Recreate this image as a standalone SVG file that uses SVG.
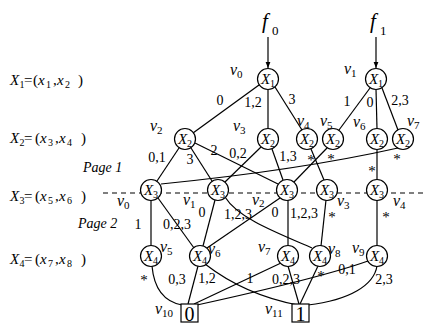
<svg xmlns="http://www.w3.org/2000/svg" width="435" height="324" viewBox="0 0 435 324">
<defs>
<style>
.e{stroke:#000;stroke-width:1.2;fill:none}
.n circle{fill:#fff;stroke:#000;stroke-width:1.2}
.n rect{fill:#fff;stroke:#000;stroke-width:1.2}
text{font-family:"Liberation Serif","Times New Roman",serif;fill:#000}
.nx{font-size:15px;font-style:italic;text-anchor:middle}
.s{font-style:normal;font-size:10px}
.vl{font-size:16px;font-style:italic}
.vs{font-style:normal;font-size:11px}
.el{font-size:14px;text-anchor:middle}
.st{font-size:15px;text-anchor:middle}
.lab{font-size:15px}
.i{font-style:italic}
.pg{font-size:14px;font-style:italic}
</style>
<marker id="ah" viewBox="0 0 10 10" refX="10" refY="5" markerWidth="6" markerHeight="8" orient="auto" markerUnits="userSpaceOnUse">
<path d="M0,1 L10,5 L0,9 Z" fill="#000"/>
</marker>
</defs>
<rect width="435" height="324" fill="#fff"/>

<g id="level-labels">
<text class="lab" y="85"><tspan class="i" x="10">X</tspan><tspan class="s" x="19.5" dy="3">1</tspan><tspan x="24" dy="-3">=</tspan><tspan x="33">(</tspan><tspan class="i" x="38">x</tspan><tspan class="s" x="46" dy="3">1</tspan><tspan x="53" dy="-3">,</tspan><tspan class="i" x="57">x</tspan><tspan class="s" x="65" dy="3">2</tspan><tspan x="78" dy="-3">)</tspan></text>
<text class="lab" y="143"><tspan class="i" x="10">X</tspan><tspan class="s" x="19.5" dy="3">2</tspan><tspan x="24" dy="-3">=</tspan><tspan x="35">(</tspan><tspan class="i" x="40">x</tspan><tspan class="s" x="48" dy="3">3</tspan><tspan x="55" dy="-3">,</tspan><tspan class="i" x="59">x</tspan><tspan class="s" x="67" dy="3">4</tspan><tspan x="81" dy="-3">)</tspan></text>
<text class="lab" y="201"><tspan class="i" x="10">X</tspan><tspan class="s" x="19.5" dy="3">3</tspan><tspan x="24" dy="-3">=</tspan><tspan x="35">(</tspan><tspan class="i" x="40">x</tspan><tspan class="s" x="48" dy="3">5</tspan><tspan x="55" dy="-3">,</tspan><tspan class="i" x="59">x</tspan><tspan class="s" x="67" dy="3">6</tspan><tspan x="81" dy="-3">)</tspan></text>
<text class="lab" y="264"><tspan class="i" x="10">X</tspan><tspan class="s" x="19.5" dy="3">4</tspan><tspan x="24" dy="-3">=</tspan><tspan x="35">(</tspan><tspan class="i" x="40">x</tspan><tspan class="s" x="48" dy="3">7</tspan><tspan x="55" dy="-3">,</tspan><tspan class="i" x="59">x</tspan><tspan class="s" x="67" dy="3">8</tspan><tspan x="81" dy="-3">)</tspan></text>
<text class="pg" x="83" y="172">Page 1</text>
<text class="pg" x="78" y="228">Page 2</text>
</g>

<line x1="103" y1="193" x2="425" y2="193" stroke="#000" stroke-width="1.2" stroke-dasharray="5,4"/>

<g id="connectors">
<line class="e" x1="268" y1="37" x2="268" y2="68" marker-end="url(#ah)"/>
<line class="e" x1="376" y1="37" x2="376" y2="68" marker-end="url(#ah)"/>
<!-- X1 -> X2 -->
<line class="e" x1="259" y1="85" x2="193" y2="133"/>
<line class="e" x1="268" y1="89" x2="268" y2="129"/>
<line class="e" x1="275" y1="87" x2="302" y2="130"/>
<line class="e" x1="370" y1="88" x2="339" y2="130"/>
<line class="e" x1="376" y1="89" x2="377" y2="129"/>
<line class="e" x1="382" y1="88" x2="398" y2="130"/>
<!-- X2 -> X3 -->
<line class="e" x1="179" y1="148" x2="157" y2="181"/>
<line class="e" x1="191" y1="148" x2="212" y2="181"/>
<line class="e" x1="195" y1="143" x2="278" y2="184"/>
<line class="e" x1="261" y1="147" x2="225" y2="182"/>
<line class="e" x1="272" y1="149" x2="283" y2="180"/>
<line class="e" x1="311" y1="149" x2="324" y2="180"/>
<line class="e" x1="327" y1="148" x2="294" y2="182"/>
<line class="e" x1="377" y1="149" x2="377" y2="180"/>
<path class="e" d="M398,148 Q300,170 161,184"/>
<!-- X3 -> X4 -->
<line class="e" x1="151" y1="200" x2="151" y2="246"/>
<line class="e" x1="158" y1="198" x2="194" y2="248"/>
<line class="e" x1="215" y1="200" x2="203" y2="246"/>
<path class="e" d="M225,197 C238,218 275,232 312,248"/>
<line class="e" x1="280" y1="198" x2="207" y2="248"/>
<line class="e" x1="288" y1="200" x2="288" y2="246"/>
<line class="e" x1="326" y1="200" x2="321" y2="246"/>
<line class="e" x1="377" y1="200" x2="377" y2="246"/>
<!-- X4 -> terminals -->
<path class="e" d="M152,266 Q155,300 182,305"/>
<line class="e" x1="198" y1="266" x2="188" y2="304"/>
<path class="e" d="M205,264 Q245,295 298,305"/>
<line class="e" x1="281" y1="263" x2="194" y2="304"/>
<line class="e" x1="288" y1="266" x2="299" y2="304"/>
<line class="e" x1="318" y1="266" x2="300" y2="304"/>
<path class="e" d="M368,261 Q320,278 197,305"/>
<path class="e" d="M377,266 C374,285 350,300 308,305"/>
</g>

<g id="edge-labels">
<text class="el" x="220" y="105">0</text>
<text class="el" x="253" y="107">1,2</text>
<text class="el" x="292" y="104">3</text>
<text class="el" x="347" y="106">1</text>
<text class="el" x="370" y="107">0</text>
<text class="el" x="400" y="105">2,3</text>
<text class="el" x="157" y="162">0,1</text>
<text class="el" x="190" y="164">3</text>
<text class="el" x="214" y="155">2</text>
<text class="el" x="238" y="158">0,2</text>
<text class="el" x="288" y="161">1,3</text>
<text class="st" x="311" y="164.5">*</text>
<text class="st" x="331" y="163.5">*</text>
<text class="st" x="372" y="175.5">*</text>
<text class="st" x="397" y="163.5">*</text>
<text class="el" x="138" y="229">1</text>
<text class="el" x="177" y="229">0,2,3</text>
<text class="el" x="202" y="217">0</text>
<text class="el" x="238" y="219">1,2,3</text>
<text class="el" x="275" y="217">0</text>
<text class="el" x="304" y="218">1,2,3</text>
<text class="st" x="332" y="221.5">*</text>
<text class="st" x="386" y="221.5">*</text>
<text class="st" x="144" y="284.5">*</text>
<text class="el" x="177" y="284">0,3</text>
<text class="el" x="207" y="283">1,2</text>
<text class="el" x="250" y="283">1</text>
<text class="el" x="286" y="284">0,2,3</text>
<text class="st" x="321" y="280.5">*</text>
<text class="el" x="347" y="274">0,1</text>
<text class="el" x="384" y="284">2,3</text>
</g>

<g id="f0"><text x="262" y="28" font-size="21" font-style="italic">f</text><text x="272" y="35" font-size="13">0</text></g>
<g id="f1"><text x="370" y="28" font-size="21" font-style="italic">f</text><text x="380" y="35" font-size="13">1</text></g>

<g id="L1v0" class="n"><circle cx="268" cy="79" r="10.5"/><text class="nx" x="268" y="84">X<tspan class="s" dy="3">1</tspan></text><text class="vl" x="230" y="75">v<tspan class="vs" dy="3">0</tspan></text></g>
<g id="L1v1" class="n"><circle cx="376" cy="79" r="10.5"/><text class="nx" x="376" y="84">X<tspan class="s" dy="3">1</tspan></text><text class="vl" x="344" y="74">v<tspan class="vs" dy="3">1</tspan></text></g>

<g id="L2v2" class="n"><circle cx="185" cy="139" r="10.5"/><text class="nx" x="185" y="144">X<tspan class="s" dy="3">2</tspan></text><text class="vl" x="150" y="131">v<tspan class="vs" dy="3">2</tspan></text></g>
<g id="L2v3" class="n"><circle cx="268" cy="139" r="10.5"/><text class="nx" x="268" y="144">X<tspan class="s" dy="3">2</tspan></text><text class="vl" x="233" y="131">v<tspan class="vs" dy="3">3</tspan></text></g>
<g id="L2v4" class="n"><circle cx="307" cy="139" r="10.5"/><text class="nx" x="307" y="144">X<tspan class="s" dy="3">2</tspan></text><text class="vl" x="297" y="126">v<tspan class="vs" dy="3">4</tspan></text></g>
<g id="L2v5" class="n"><circle cx="333" cy="139" r="10.5"/><text class="nx" x="333" y="144">X<tspan class="s" dy="3">2</tspan></text><text class="vl" x="320" y="126">v<tspan class="vs" dy="3">5</tspan></text></g>
<g id="L2v6" class="n"><circle cx="377" cy="139" r="10.5"/><text class="nx" x="377" y="144">X<tspan class="s" dy="3">2</tspan></text><text class="vl" x="353" y="127">v<tspan class="vs" dy="3">6</tspan></text></g>
<g id="L2v7" class="n"><circle cx="403" cy="139" r="10.5"/><text class="nx" x="403" y="144">X<tspan class="s" dy="3">2</tspan></text><text class="vl" x="407" y="126">v<tspan class="vs" dy="3">7</tspan></text></g>

<g id="L3v0" class="n"><circle cx="151" cy="190" r="10.5"/><text class="nx" x="151" y="195">X<tspan class="s" dy="3">3</tspan></text><text class="vl" x="117" y="206">v<tspan class="vs" dy="3">0</tspan></text></g>
<g id="L3v1" class="n"><circle cx="218" cy="190" r="10.5"/><text class="nx" x="218" y="195">X<tspan class="s" dy="3">3</tspan></text><text class="vl" x="183" y="205">v<tspan class="vs" dy="3">1</tspan></text></g>
<g id="L3v2" class="n"><circle cx="287" cy="190" r="10.5"/><text class="nx" x="287" y="195">X<tspan class="s" dy="3">3</tspan></text><text class="vl" x="252" y="205">v<tspan class="vs" dy="2">2</tspan></text></g>
<g id="L3v3" class="n"><circle cx="327" cy="190" r="10.5"/><text class="nx" x="327" y="195">X<tspan class="s" dy="3">3</tspan></text><text class="vl" x="337" y="206">v<tspan class="vs" dy="3">3</tspan></text></g>
<g id="L3v4" class="n"><circle cx="377" cy="190" r="10.5"/><text class="nx" x="377" y="195">X<tspan class="s" dy="3">3</tspan></text><text class="vl" x="393" y="206">v<tspan class="vs" dy="3">4</tspan></text></g>

<g id="L4v5" class="n"><circle cx="151" cy="256" r="10.5"/><text class="nx" x="151" y="261">X<tspan class="s" dy="3">4</tspan></text><text class="vl" x="160" y="252">v<tspan class="vs" dy="3">5</tspan></text></g>
<g id="L4v6" class="n"><circle cx="200" cy="256" r="10.5"/><text class="nx" x="200" y="261">X<tspan class="s" dy="3">4</tspan></text><text class="vl" x="208" y="254">v<tspan class="vs" dy="3">6</tspan></text></g>
<g id="L4v7" class="n"><circle cx="288" cy="256" r="10.5"/><text class="nx" x="288" y="261">X<tspan class="s" dy="3">4</tspan></text><text class="vl" x="258" y="252">v<tspan class="vs" dy="3">7</tspan></text></g>
<g id="L4v8" class="n"><circle cx="320" cy="256" r="10.5"/><text class="nx" x="320" y="261">X<tspan class="s" dy="3">4</tspan></text><text class="vl" x="328" y="254">v<tspan class="vs" dy="3">8</tspan></text></g>
<g id="L4v9" class="n"><circle cx="377" cy="256" r="10.5"/><text class="nx" x="377" y="261">X<tspan class="s" dy="3">4</tspan></text><text class="vl" x="352" y="253">v<tspan class="vs" dy="3">9</tspan></text></g>

<g id="T0" class="n"><rect x="181" y="304" width="17" height="18"/><text x="189.5" y="321" font-size="20" text-anchor="middle">0</text><text class="vl" x="155" y="314">v<tspan class="vs" dy="3">10</tspan></text></g>
<g id="T1" class="n"><rect x="292" y="304" width="17" height="18"/><text x="300.5" y="321" font-size="20" text-anchor="middle">1</text><text class="vl" x="265" y="314">v<tspan class="vs" dy="3">11</tspan></text></g>
</svg>
